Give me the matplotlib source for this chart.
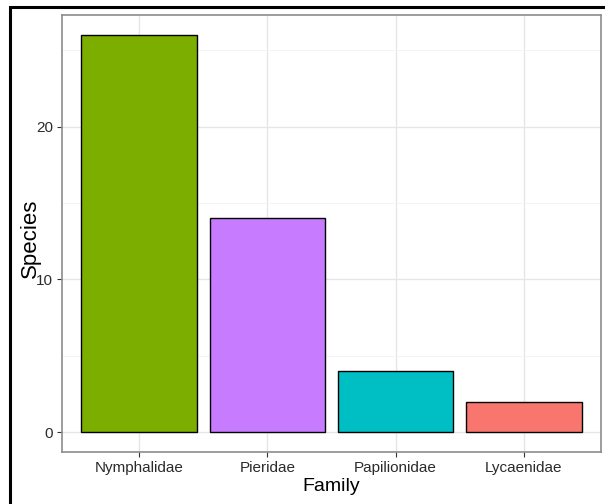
import matplotlib
matplotlib.use("Agg")
import matplotlib.pyplot as plt
from matplotlib.patches import Rectangle

families = ["Nymphalidae", "Pieridae", "Papilionidae", "Lycaenidae"]
species = [26, 14, 4, 2]
colors = ["#7CAE00", "#C77CFF", "#00BFC4", "#F8766D"]

plt.rcParams['font.family'] = ['Liberation Sans', 'DejaVu Sans']

W, H = 605, 504
fig = plt.figure(figsize=(W / 100, H / 100), dpi=100)
ax = fig.add_axes([62 / W, 1 - 452 / H, (601 - 62) / W, (452 - 15) / H])

x = list(range(1, len(families) + 1))
ax.bar(x, species, width=0.9, color=colors, edgecolor="black", linewidth=1, zorder=3)

ax.set_xlim(0.4, 4.6)
ax.set_ylim(-1.3, 27.3)
ax.set_xticks(x)
ax.set_xticklabels(families)
ax.set_yticks([0, 10, 20])
ax.set_yticks([5, 15, 25], minor=True)

ax.grid(True, which="major", color="#e6e6e6", linewidth=1, zorder=0)
ax.grid(True, which="minor", axis="y", color="#f3f3f3", linewidth=0.6, zorder=0)
ax.set_axisbelow(True)

for s in ax.spines.values():
    s.set_color("#8c8c8c")
    s.set_linewidth(1.2)

ax.tick_params(axis="both", which="major", length=3.5, color="#333333",
               labelsize=11, labelcolor="#2b2b2b", pad=3)
ax.tick_params(axis="y", which="minor", length=0)

ax.set_xlabel("Family", fontsize=14)
ax.xaxis.set_label_coords(331 / W, 1 - 478 / H, transform=fig.transFigure)
ax.set_ylabel("Species", fontsize=16)
ax.yaxis.set_label_coords(41 / W, 1 - 238 / H, transform=fig.transFigure)

# outer frame
fig.patches.append(Rectangle((9.5 / W, -0.1), 1.2, 1 - 7.5 / H + 0.1,
                             transform=fig.transFigure, fill=False,
                             edgecolor="black", linewidth=2.2))

fig.savefig("out.png", dpi=100)
